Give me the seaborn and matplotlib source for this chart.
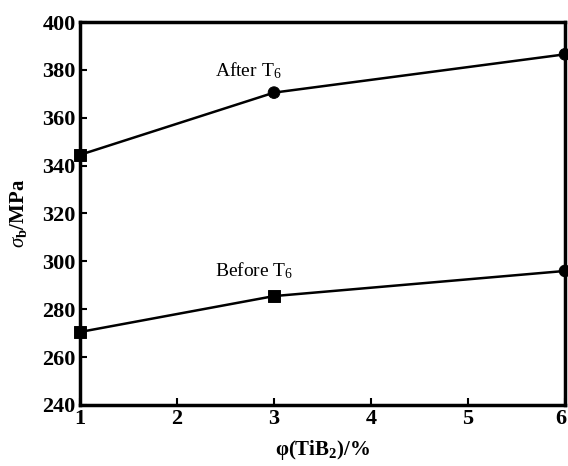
import matplotlib
matplotlib.use("Agg")
import matplotlib.pyplot as plt
import matplotlib.transforms as mtransforms
import seaborn as sns
import pandas as pd

x_vals = [1, 3, 6]
after_t6 = [344.5, 370.5, 386.5]
before_t6 = [270.5, 285.5, 296]
after_markers = ["s", "o", "o"]
before_markers = ["s", "s", "o"]
x_ticks = [1, 2, 3, 4, 5, 6]
y_ticks = [240, 260, 280, 300, 320, 340, 360, 380, 400]

sns.set_theme(style="ticks")
plt.rcParams['font.family'] = ['Liberation Serif', 'DejaVu Serif']
plt.rcParams['mathtext.fontset'] = 'custom'
plt.rcParams['mathtext.rm'] = 'Liberation Serif'
plt.rcParams['mathtext.it'] = 'Liberation Serif:italic'
plt.rcParams['mathtext.bf'] = 'Liberation Serif:bold'
plt.rcParams['text.color'] = 'black'
plt.rcParams['axes.labelcolor'] = 'black'
plt.rcParams['xtick.color'] = 'black'
plt.rcParams['ytick.color'] = 'black'
plt.rcParams['axes.edgecolor'] = 'black'

fig = plt.figure(figsize=(5.68, 4.66), dpi=100)
ax = fig.add_axes([80/568, 1-405/466, 485/568, 383/466])

df = pd.DataFrame({
    "x": x_vals * 2,
    "y": after_t6 + before_t6,
    "series": ["After"] * 3 + ["Before"] * 3,
    "marker": after_markers + before_markers,
})

sns.lineplot(data=df, x="x", y="y", units="series", estimator=None,
             color="black", lw=1.8, ax=ax, legend=False)
sns.scatterplot(data=df, x="x", y="y", style="marker",
                markers={"s": "s", "o": "o"}, color="black", s=70,
                edgecolor="black", ax=ax, legend=False, clip_on=False, zorder=5)

ax.set_xlim(1, 6)
ax.set_ylim(240, 400)
ax.set_xticks(x_ticks)
ax.set_yticks(y_ticks)
ax.set_xticklabels([str(v) for v in x_ticks], fontsize=16, fontweight='bold')
ax.set_yticklabels([str(v) for v in y_ticks], fontsize=16, fontweight='bold')
ax.tick_params(axis='both', direction='in', length=5, width=1.5, pad=3)
for sp in ax.spines.values():
    sp.set_linewidth(2.5)
    sp.set_visible(True)

# nudge last x tick label so it stays inside the figure
last = ax.get_xticklabels()[-1]
last.set_transform(last.get_transform() + mtransforms.ScaledTranslation(-4/100, 0, fig.dpi_scale_trans))

ax.set_xlabel(r"φ(TiB$_\mathbf{2}$)/%", fontsize=15, fontweight='bold', labelpad=6)
ax.set_ylabel(r"$\sigma_\mathbf{b}$/MPa", fontsize=15, fontweight='bold', labelpad=10)

ax.text(2.39, 375.5, r"After T$_6$", fontsize=14, ha='left', va='bottom')
ax.text(2.39, 292, r"Before T$_6$", fontsize=14, ha='left', va='bottom')

fig.savefig("out.png", dpi=100)
